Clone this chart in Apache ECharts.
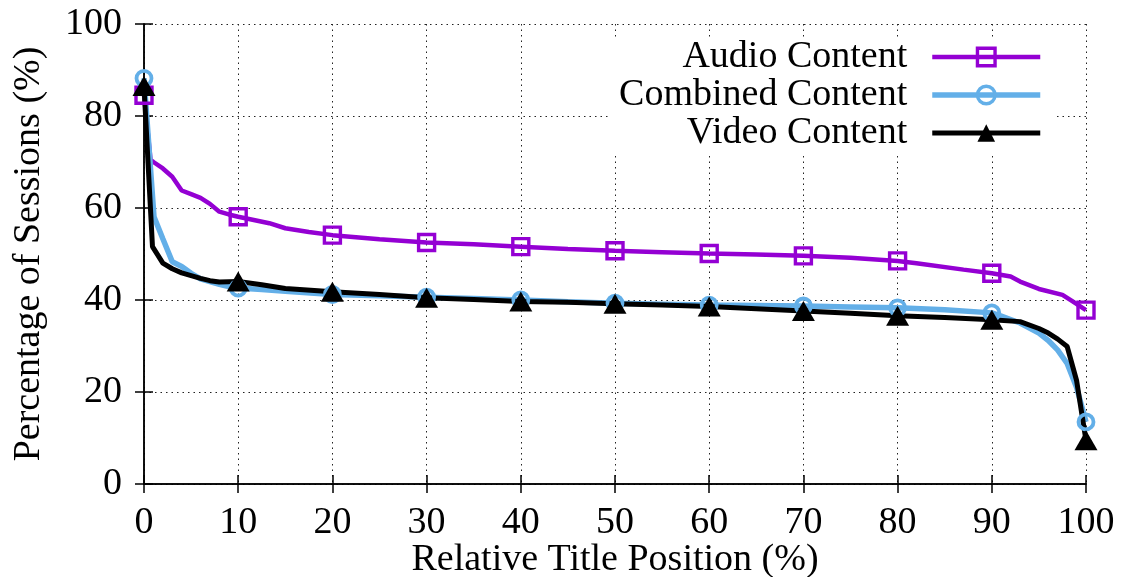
<!DOCTYPE html>
<html>
<head>
<meta charset="utf-8">
<script src="https://cdn.jsdelivr.net/npm/echarts@6/dist/echarts.min.js"></script>
<style>html,body{margin:0;padding:0;background:#fff}#c{width:1122px;height:577px}</style>
</head>
<body>
<div id="c"></div>
<script>
// ---- data ----
const seriesNames = ['Audio Content', 'Combined Content', 'Video Content'];
const audioX = [0, 0.7, 1, 2, 3, 4, 5, 6, 7, 8, 9, 10, 13.3, 15, 17.5, 20, 25, 30, 35, 40, 45, 50, 55, 60, 65, 70, 75, 80, 82, 87, 90, 92, 93, 95, 97.5, 98.5, 100];
const audioY = [84.5, 70.4, 70.0, 68.6, 66.8, 63.8, 63.0, 62.2, 60.9, 59.2, 58.6, 58.1, 56.7, 55.6, 54.8, 54.1, 53.2, 52.5, 52.1, 51.6, 51.1, 50.7, 50.4, 50.1, 49.9, 49.6, 49.2, 48.5, 48.0, 46.6, 45.8, 45.1, 44.0, 42.4, 41.1, 39.8, 37.8];
const combinedX = [0, 1.06, 2, 3, 4, 5, 6, 7, 8, 9, 10, 12.5, 15, 20, 25, 30, 35, 40, 45, 50, 55, 60, 65, 70, 75, 80, 85, 90, 91, 93, 95, 96, 97, 98, 99, 100];
const combinedY = [88.2, 58.1, 53.3, 48.3, 47.3, 45.8, 44.6, 44.0, 43.4, 42.9, 42.6, 42.3, 41.9, 41.2, 40.9, 40.6, 40.3, 40.0, 39.6, 39.3, 39.1, 38.9, 38.8, 38.7, 38.5, 38.3, 37.9, 37.2, 36.5, 35.0, 32.8, 31.2, 29.1, 26.2, 21.0, 13.5];
const videoX = [0, 0.9, 2, 3, 4, 5, 6, 7, 8, 10, 12.5, 15, 20, 25, 30, 35, 40, 45, 50, 55, 60, 65, 70, 75, 80, 85, 90, 93, 95, 96, 97, 98, 99, 100];
const videoY = [86.5, 51.6, 48.0, 46.8, 45.9, 45.3, 44.7, 44.2, 43.9, 44.0, 43.3, 42.5, 41.8, 41.2, 40.5, 40.1, 39.7, 39.5, 39.2, 38.9, 38.6, 38.1, 37.6, 37.1, 36.6, 36.2, 35.7, 35.3, 33.8, 32.8, 31.5, 29.9, 22.5, 9.5];
const markerEvery = 10;

const FONT = 'Liberation Serif';
const COLORS = ['#9400D3', '#63AFE8', '#000000'];
const LINE_W = [4.5, 5.5, 5];
const pairs = (xs, ys) => xs.map((x, i) => [x, ys[i]]);
const isMarker = (v) => Math.abs(v[0] % markerEvery) < 1e-9;

const chart = echarts.init(document.getElementById('c'), null, {renderer: 'canvas'});
const axisLineStyle = {color: '#000', width: 1.5};
const gridLine = {show: true, lineStyle: {color: '#222', width: 1, type: [1.5, 4]}};
const labelStyle = {color: '#000', fontFamily: FONT, fontSize: 38};

chart.setOption({
  backgroundColor: '#fff',
  animation: false,
  grid: {left: 144, right: 36, top: 24, bottom: 93, containLabel: false, outerBoundsMode: 'none'},
  legend: {
    orient: 'vertical', align: 'right', right: 69, top: 38,
    itemWidth: 108, itemHeight: 22, itemGap: 0,
    backgroundColor: '#fff', padding: [0, 10, 0, 10],
    textStyle: {color: '#000', fontFamily: FONT, fontSize: 38, lineHeight: 38, padding: [0, 20, 0, 0]},
    data: seriesNames.map((n, i) => ({
      name: n,
      lineStyle: {width: LINE_W[i], color: COLORS[i]},
      itemStyle: i === 2 ? {color: COLORS[i], borderWidth: 0}
                         : {color: 'rgba(255,255,255,0)', borderColor: COLORS[i], borderWidth: 3.4}
    }))
  },
  xAxis: [{
    type: 'value', min: 0, max: 100, interval: 10,
    name: 'Relative Title Position (%)', nameLocation: 'middle', nameGap: 57,
    nameMoveOverlap: false,
    nameTextStyle: labelStyle,
    axisLine: {show: true, lineStyle: axisLineStyle},
    axisTick: {show: true, inside: true, length: 9, lineStyle: axisLineStyle},
    axisLabel: Object.assign({margin: 20}, labelStyle),
    splitLine: gridLine
  }, {
    type: 'value', min: 0, max: 100, interval: 10, position: 'top',
    axisLine: {show: true, lineStyle: axisLineStyle},
    axisTick: {show: true, inside: true, length: 9, lineStyle: axisLineStyle},
    axisLabel: {show: false}, splitLine: {show: false}
  }],
  yAxis: [{
    type: 'value', min: 0, max: 100, interval: 20,
    name: 'Percentage of Sessions (%)', nameLocation: 'middle', nameGap: 96,
    nameTextStyle: labelStyle,
    axisLine: {show: true, lineStyle: axisLineStyle},
    axisTick: {show: true, inside: true, length: 9, lineStyle: axisLineStyle},
    axisLabel: Object.assign({margin: 22}, labelStyle),
    splitLine: gridLine
  }, {
    type: 'value', min: 0, max: 100, interval: 20, position: 'right',
    axisLine: {show: true, lineStyle: axisLineStyle},
    axisTick: {show: true, inside: true, length: 9, lineStyle: axisLineStyle},
    axisLabel: {show: false}, splitLine: {show: false}
  }],
  series: [{
    name: seriesNames[0], type: 'line', clip: false,
    data: pairs(audioX, audioY),
    symbol: 'rect', symbolSize: (v) => (isMarker(v) ? 16 : 0),
    lineStyle: {color: COLORS[0], width: LINE_W[0]},
    itemStyle: {color: 'rgba(255,255,255,0)', borderColor: COLORS[0], borderWidth: 3.4},
    emphasis: {disabled: true}
  }, {
    name: seriesNames[1], type: 'line', clip: false,
    data: pairs(combinedX, combinedY),
    symbol: 'circle', symbolSize: (v) => (isMarker(v) ? 15 : 0),
    lineStyle: {color: COLORS[1], width: LINE_W[1]},
    itemStyle: {color: 'rgba(255,255,255,0)', borderColor: COLORS[1], borderWidth: 3.8},
    emphasis: {disabled: true}
  }, {
    name: seriesNames[2], type: 'line', clip: false,
    data: pairs(videoX, videoY),
    symbol: 'triangle', symbolSize: (v) => (isMarker(v) ? [23, 20] : 0),
    lineStyle: {color: COLORS[2], width: LINE_W[2]},
    itemStyle: {color: COLORS[2], borderWidth: 0},
    emphasis: {disabled: true}
  }]
});
</script>
</body>
</html>
